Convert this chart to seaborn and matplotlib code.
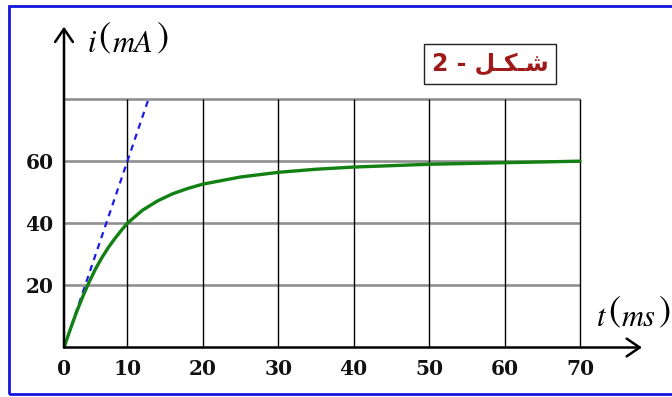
import numpy as np
import matplotlib
matplotlib.use("Agg")
import matplotlib.pyplot as plt
import seaborn as sns
from matplotlib.patches import Rectangle

# ---- data ----
t_ms = [0, 1, 2, 3, 4, 5, 6, 7, 8, 9, 10, 12, 14, 16, 18, 20, 25, 30, 35, 40, 50, 60, 70]
i_mA = [0, 5.9, 11.5, 16.6, 21.2, 25.4, 29.0, 32.2, 35.0, 37.6, 40.0, 44.2, 47.2, 49.5,
        51.2, 52.6, 54.9, 56.4, 57.4, 58.1, 59.0, 59.5, 60.0]
tangent_t = [0, 10, 12.8]
tangent_i = [0, 60, 80]
x_ticks = [0, 10, 20, 30, 40, 50, 60, 70]
y_ticks = [20, 40, 60]
grid_y = [20, 40, 60, 80]
title_text = "2 - \uFEDE\u0640\uFEDC\u0640\uFEB7"   # شكل - 2 (visual order)
y_label_parts = ["i", "(", "mA", ")"]
x_label_parts = ["t", "(", "ms", ")"]

W, H = 672, 397
sns.set_style("white")
plt.rcParams["font.family"] = ["DejaVu Sans"]

fig = plt.figure(figsize=(W / 100, H / 100), dpi=100)
ax = fig.add_axes([64 / W, 49.5 / H, 591.5 / W, 326.1 / H])


def fwd(x):
    x = np.asarray(x, dtype=float)
    return np.where(x < 10, 0.84 * x, x - 1.6)


def inv(y):
    y = np.asarray(y, dtype=float)
    return np.where(y < 8.4, y / 0.84, y + 1.6)


ax.set_xscale("function", functions=(fwd, inv))
ax.set_xlim(0, 80)
ax.set_ylim(0, 105)
for s in ax.spines.values():
    s.set_visible(False)

# grid
ax.hlines(grid_y, 0, x_ticks[-1], color="#8f8f8f", lw=1.9, zorder=1)
ax.vlines(x_ticks[1:], 0, grid_y[-1], color="black", lw=1.0, zorder=1)

# curves
sns.lineplot(x=tangent_t, y=tangent_i, color="#1a1aee", lw=1.6,
             linestyle=(0, (2.8, 2.4)), ax=ax, zorder=3)
sns.lineplot(x=t_ms, y=i_mA, color="#128012", lw=2.4, ax=ax, zorder=4)

# axes arrows
arrow = dict(arrowstyle="->,head_length=0.47,head_width=0.32", mutation_scale=20,
             lw=1.8, color="black", shrinkA=0, shrinkB=0)
ax.annotate("", xy=(78.2, 0), xytext=(0, 0), arrowprops=arrow,
            annotation_clip=False, zorder=5)
ax.annotate("", xy=(0, 103.3), xytext=(0, 0), arrowprops=arrow,
            annotation_clip=False, zorder=5)

# ticks
ax.minorticks_off()
ax.set_xticks(x_ticks)
ax.set_xticklabels([str(v) for v in x_ticks])
ax.set_yticks(y_ticks)
ax.set_yticklabels([str(v) for v in y_ticks])
ax.tick_params(axis="x", length=0, pad=8)
ax.tick_params(axis="y", length=0, pad=7.5)
for lab in ax.get_xticklabels() + ax.get_yticklabels():
    lab.set_fontfamily("DejaVu Serif")
    lab.set_fontweight("bold")
    lab.set_fontsize(14.5)
    lab.set_color("#111111")
ax.set_xlabel("")
ax.set_ylabel("")


def px(x, y):
    return x / W, 1 - y / H


lab_kw = dict(fontfamily="STIXGeneral", style="italic", fontsize=22, color="black")
par_kw = dict(fontfamily="STIXGeneral", fontsize=26, color="black", va="center")
# y-axis label  i (mA)
fig.text(*px(87, 52), y_label_parts[0], ha="left", va="baseline", **lab_kw)
fig.text(*px(98, 39), y_label_parts[1], ha="left", **par_kw)
fig.text(*px(113, 52), y_label_parts[2], ha="left", va="baseline", **lab_kw)
fig.text(*px(157, 39), y_label_parts[3], ha="left", **par_kw)
# x-axis label  t (ms)
fig.text(*px(597, 326), x_label_parts[0], ha="left", va="baseline", **lab_kw)
fig.text(*px(608, 313), x_label_parts[1], ha="left", **par_kw)
fig.text(*px(622, 326), x_label_parts[2], ha="left", va="baseline", **lab_kw)
fig.text(*px(659, 313), x_label_parts[3], ha="left", **par_kw)

# title box
fig.text(*px(490, 64), title_text, ha="center", va="center", fontsize=17,
         fontweight="bold", color="#9e1a1a", fontfamily=["DejaVu Sans"],
         bbox=dict(boxstyle="square,pad=0.33", fc="white", ec="#222222", lw=1.0))

# blue frame
fig.add_artist(Rectangle((9 / W, 3.5 / H), 1.0, (H - 9) / H, transform=fig.transFigure,
                         fill=False, ec="#1515dd", lw=2.0))

fig.savefig("out.png", dpi=100)
